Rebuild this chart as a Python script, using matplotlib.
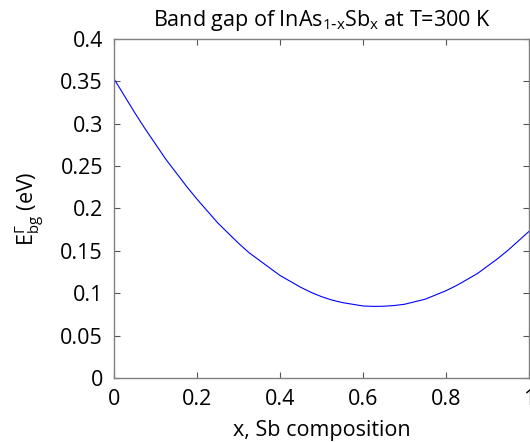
import matplotlib
matplotlib.use("Agg")
import matplotlib.pyplot as plt

# Sb fraction and band gap (eV)
sb_frac = [0.0, 0.025, 0.05, 0.075, 0.10, 0.125, 0.15, 0.175, 0.20, 0.225,
           0.25, 0.275, 0.30, 0.325, 0.35, 0.375, 0.40, 0.425, 0.45, 0.475,
           0.50, 0.525, 0.55, 0.575, 0.60, 0.625, 0.65, 0.675, 0.70, 0.725,
           0.75, 0.775, 0.80, 0.825, 0.85, 0.875, 0.90, 0.925, 0.95, 0.975, 1.0]
gap_ev = [0.353, 0.333, 0.313, 0.294, 0.276, 0.258, 0.242, 0.226, 0.211, 0.197,
          0.183, 0.171, 0.159, 0.148, 0.139, 0.130, 0.121, 0.114, 0.107, 0.101,
          0.096, 0.092, 0.089, 0.087, 0.085, 0.0845, 0.0847, 0.0855, 0.087, 0.090,
          0.093, 0.098, 0.103, 0.109, 0.116, 0.123, 0.132, 0.141, 0.151, 0.162, 0.173]

xticks = [0, 0.2, 0.4, 0.6, 0.8, 1]
yticks = [0, 0.05, 0.1, 0.15, 0.2, 0.25, 0.3, 0.35, 0.4]

plt.rcParams['font.family'] = ['Open Sans', 'DejaVu Sans']
plt.rcParams['font.size'] = 15.5

fig = plt.figure(figsize=(5.30, 4.42), dpi=100)
ax = fig.add_axes([114 / 530, 64 / 442, 415 / 530, 339 / 442])

ax.plot(sb_frac, gap_ev, color='blue', lw=0.8)

ax.set_xlim(0, 1)
ax.set_ylim(0, 0.4)
ax.set_xticks(xticks)
ax.set_xticklabels(['0', '0.2', '0.4', '0.6', '0.8', '1'])
ax.set_yticks(yticks)
ax.set_yticklabels(['0', '0.05', '0.1', '0.15', '0.2', '0.25', '0.3', '0.35', '0.4'])
ax.tick_params(direction='in', length=4, width=0.8, color='#555555',
               top=True, right=True, pad=8, labelsize=15.5)
for s in ax.spines.values():
    s.set_color('#808080')
    s.set_linewidth(1.0)

ax.set_title(r'Band gap of InAs$_{\mathregular{1\text{-}x}}$Sb$_{\mathregular{x}}$ at T=300 K',
             fontsize=15.5, pad=9)
ax.set_xlabel('x, Sb composition', fontsize=15.5)
ax.set_ylabel(r'$\mathregular{E_{bg}^{\Gamma}}$ (eV)', fontsize=15.5)
ax.xaxis.set_label_coords(0.5, -0.125)
ax.yaxis.set_label_coords(-0.162, 0.5)

fig.savefig('out.png', dpi=100)
